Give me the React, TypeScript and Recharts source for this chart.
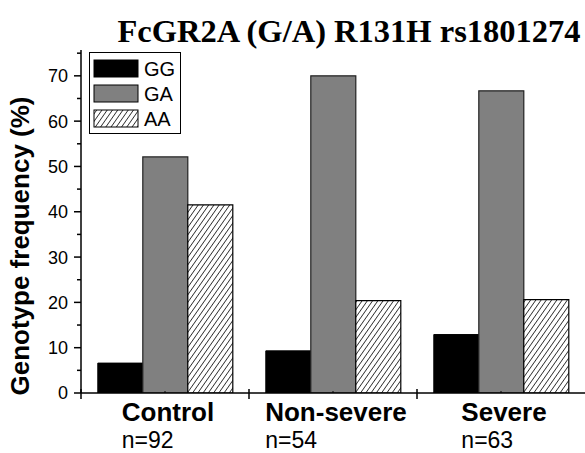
import React from "react";
import { BarChart, Bar, XAxis, YAxis } from "recharts";

const categories = ["Control", "Non-severe", "Severe"];
const sampleSizes = ["n=92", "n=54", "n=63"];
const ggValues = [6.6, 9.3, 12.9];
const gaValues = [52.1, 70.0, 66.7];
const aaValues = [41.5, 20.4, 20.6];
const yTicks = [0, 5, 10, 15, 20, 25, 30, 35, 40, 45, 50, 55, 60, 65, 70, 75];
const title = "FcGR2A (G/A) R131H rs1801274";
const yLabel = "Genotype frequency (%)";
const legendItems = [
  { key: "GG", fill: "#000000" },
  { key: "GA", fill: "#808080" },
  { key: "AA", fill: "url(#hatchAA)" },
];

const data = categories.map((c, i) => ({
  name: c,
  n: sampleSizes[i],
  GG: ggValues[i],
  GA: gaValues[i],
  AA: aaValues[i],
}));

const W = 585;
const H = 453;
const YW = 81;
const SANS = "'Liberation Sans', Arial, sans-serif";

let measureCtx: CanvasRenderingContext2D | null = null;
function measure(text: string, font: string) {
  if (!measureCtx) {
    const c = document.createElement("canvas");
    measureCtx = c.getContext("2d");
  }
  if (!measureCtx) return text.length * 12;
  measureCtx.font = font;
  return measureCtx.measureText(text).width;
}

const YTick = (props: any) => {
  const { x, y, payload } = props;
  const v = payload.value;
  const major = v % 10 === 0;
  return (
    <g>
      <line x1={x} x2={x - (major ? 7 : 4)} y1={y} y2={y} stroke="#000" strokeWidth={1.5} />
      {major && (
        <text x={x - 13} y={y} dy="0.36em" textAnchor="end" fontFamily={SANS} fontSize={18} fill="#000">
          {v}
        </text>
      )}
    </g>
  );
};

const XTick = (props: any) => {
  const { x, y, payload, index } = props;
  const band = (W - YW) / categories.length;
  const name = payload.value as string;
  const nameFont = `bold 26px 'Liberation Sans'`;
  const nameW = measure(name, nameFont);
  const cx = x + 3;
  return (
    <g>
      <line x1={x - band / 2} x2={x - band / 2} y1={y - 4} y2={y + 6} stroke="#000" strokeWidth={1.5} />
      <line x1={x} x2={x} y1={y} y2={y - 2} stroke="#000" strokeWidth={1} />
      <text x={cx} y={y + 28} textAnchor="middle" fontFamily={SANS} fontWeight="bold" fontSize={26} fill="#000">
        {name}
      </text>
      <text x={cx - nameW / 2} y={y + 55} textAnchor="start" fontFamily={SANS} fontSize={23} fill="#000">
        {sampleSizes[index]}
      </text>
    </g>
  );
};

export default function App() {
  return (
    <div style={{ position: "absolute", left: 0, top: 0, width: W, height: H, overflow: "hidden", background: "#fff" }}>
      <svg width={0} height={0} style={{ position: "absolute" }}>
        <defs>
          <pattern id="hatchAA" patternUnits="userSpaceOnUse" width={4.3} height={4.3} patternTransform="rotate(35)">
            <rect width={4.3} height={4.3} fill="#fff" />
            <line x1={0} y1={0} x2={0} y2={4.3} stroke="#000" strokeWidth={1.4} />
          </pattern>
        </defs>
      </svg>
      <BarChart
        width={W}
        height={H}
        data={data}
        margin={{ top: 50, right: 0, bottom: 0, left: 0 }}
        barCategoryGap="10%"
        barGap={0}
      >
        <XAxis
          xAxisId="top"
          orientation="top"
          dataKey="name"
          height={0}
          tick={false}
          tickLine={false}
          axisLine={{ stroke: "#000", strokeWidth: 1.5 }}
        />
        <XAxis
          dataKey="name"
          height={60}
          tickSize={0}
          tickMargin={0}
          tickLine={false}
          interval={0}
          tick={<XTick />}
          axisLine={{ stroke: "#000", strokeWidth: 1.5 }}
        />
        <YAxis
          width={YW}
          domain={[0, 75.7]}
          ticks={yTicks}
          interval={0}
          allowDataOverflow
          tickSize={0}
          tickMargin={0}
          tickLine={false}
          tick={<YTick />}
          axisLine={{ stroke: "#000", strokeWidth: 1.5 }}
        />
        <Bar dataKey="GG" fill="#000000" stroke="#000" strokeWidth={1} isAnimationActive={false} />
        <Bar dataKey="GA" fill="#808080" stroke="#222" strokeWidth={1.2} isAnimationActive={false} />
        <Bar dataKey="AA" fill="url(#hatchAA)" stroke="#000" strokeWidth={1.2} isAnimationActive={false} />
      </BarChart>
      <svg width={W} height={H} style={{ position: "absolute", left: 0, top: 0, pointerEvents: "none" }}>
        <text x={349} y={42} textAnchor="middle" fontFamily="'Liberation Serif', 'Times New Roman', serif" fontWeight="bold" fontSize={32.5} fill="#000">
          {title}
        </text>
        <text
          transform="translate(29, 246) rotate(-90)"
          textAnchor="middle"
          fontFamily={SANS}
          fontWeight="bold"
          fontSize={26}
          fill="#000"
        >
          {yLabel}
        </text>
        <rect x={89.5} y={52.5} width={91} height={81} fill="#fff" stroke="#000" strokeWidth={1} />
        {legendItems.map((it, i) => (
          <g key={it.key}>
            <rect x={94} y={60 + i * 25} width={44} height={17} fill={it.fill} stroke="#000" strokeWidth={1} />
            <text x={144} y={75.5 + i * 25} fontFamily={SANS} fontSize={20} fill="#000">
              {it.key}
            </text>
          </g>
        ))}
      </svg>
    </div>
  );
}
